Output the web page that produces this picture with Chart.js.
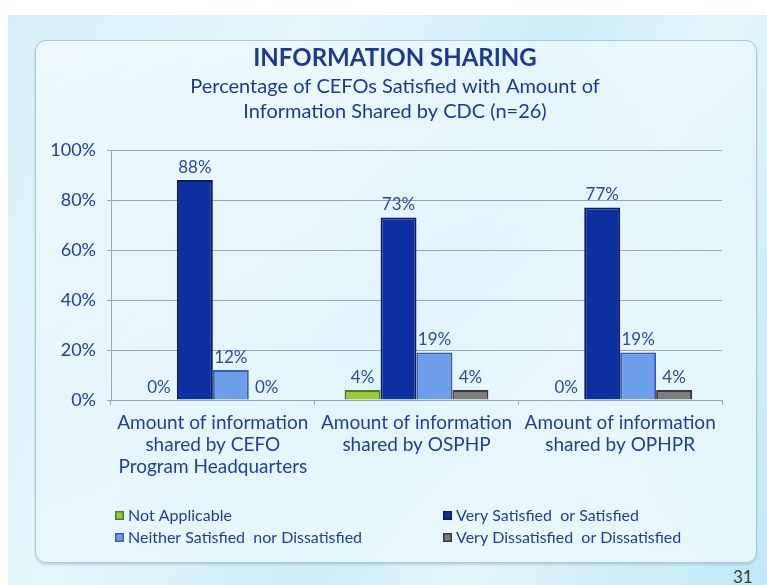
<!DOCTYPE html>
<html>
<head>
<meta charset="utf-8">
<script src="https://cdn.jsdelivr.net/npm/chart.js@4.4.1/dist/chart.umd.min.js"></script>
<style>
  html, body { margin: 0; padding: 0; background: #ffffff; }
  #page { position: relative; width: 767px; height: 585px; overflow: hidden; background: #ffffff; }
  #bg { position: absolute; left: 8px; top: 15px; width: 759px; height: 570px;
        background: linear-gradient(115deg, #d6f0f9 0%, #e4f5fb 30%, #cdeef9 55%, #e2f5fb 70%, #bfe8f7 100%); }
  #panel { position: absolute; left: 35px; top: 40px; width: 720px; height: 521px;
           border-radius: 11px; border: 1.5px solid #a9c6d4;
           background: linear-gradient(160deg, rgba(240,250,253,0.85) 0%, rgba(230,246,252,0.8) 50%, rgba(236,249,253,0.85) 100%);
           box-shadow: 0 2px 2px rgba(120,160,180,0.35); }
  #num { position: absolute; left: 733px; top: 566px; font: 17px Lato, sans-serif; color: #3a3a3a; }
  #wrap { position: absolute; left: 0; top: 0; width: 767px; height: 585px; }
</style>
</head>
<body>
<div id="page">
  <div id="bg"></div>
  <div id="panel"></div>
  <div id="num">31</div>
  <div id="wrap"><canvas id="c" width="767" height="585"></canvas></div>
</div>
<script>
const categories = [
  ["Amount of information", "shared by CEFO", "Program Headquarters"],
  ["Amount of information", "shared by OSPHP"],
  ["Amount of information", "shared by OPHPR"]
];
const seriesNames = [
  "Not Applicable",
  "Very Satisfied  or Satisfied",
  "Neither Satisfied  nor Dissatisfied",
  "Very Dissatisfied  or Dissatisfied"
];
const notApplicable    = [0, 4, 0];
const verySatisfied    = [88, 73, 77];
const neitherSatisfied = [12, 19, 19];
const veryDissatisfied = [0, 4, 4];
const yTickValues = [0, 20, 40, 60, 80, 100];
const titleText = "INFORMATION SHARING";
const subtitleLines = ["Percentage of CEFOs Satisfied with Amount of", "Information Shared by CDC (n=26)"];

const FONT = "Lato, 'Open Sans', sans-serif";
const TEXT_BLUE = "#223f96";
const TITLE_BLUE = "#1d3a92";

const fills   = ["#9acb3a", "#0e2f9f", "#6d9eec", "#7c7c7c"];
const borders = ["#4f7d1c", "#0a1c62", "#3d5ea8", "#3a3a3a"];

const headerText = {
  id: "headerText",
  afterDraw(chart) {
    const ctx = chart.ctx;
    const cx = 395;
    ctx.save();
    ctx.textAlign = "center";
    ctx.textBaseline = "middle";
    ctx.fillStyle = TITLE_BLUE;
    ctx.font = "bold 24px " + FONT;
    ctx.fillText(titleText, cx, 58);
    ctx.font = "20px " + FONT;
    subtitleLines.forEach((line, i) => ctx.fillText(line, cx, 87 + i * 25));
    ctx.restore();
  }
};

const valueLabels = {
  id: "valueLabels",
  afterDatasetsDraw(chart) {
    const ctx = chart.ctx;
    ctx.save();
    ctx.font = "17px " + FONT;
    ctx.fillStyle = "#2c4b9e";
    ctx.textAlign = "center";
    ctx.textBaseline = "bottom";
    chart.data.datasets.forEach((ds, i) => {
      const meta = chart.getDatasetMeta(i);
      meta.data.forEach((bar, j) => {
        ctx.fillText(ds.data[j] + "%", bar.x, bar.y - 4);
      });
    });
    ctx.restore();
  }
};

const columnLegend = {
  id: "columnLegend",
  afterDraw(chart) {
    const ctx = chart.ctx;
    const cols = [115, 443];
    const rows = [516, 538];
    const place = [[0, 0], [1, 0], [0, 1], [1, 1]];
    ctx.save();
    ctx.font = "16px " + FONT;
    ctx.textBaseline = "middle";
    chart.data.datasets.forEach((ds, i) => {
      const x = cols[place[i][0]], y = rows[place[i][1]];
      ctx.fillStyle = ds.borderColor;
      ctx.fillRect(x, y - 5, 9, 9);
      ctx.fillStyle = ds.backgroundColor;
      ctx.fillRect(x + 1.5, y - 3.5, 6, 6);
      ctx.fillStyle = TEXT_BLUE;
      ctx.textAlign = "left";
      ctx.fillText(ds.label, x + 13, y);
    });
    ctx.restore();
  }
};

const seriesData = [notApplicable, verySatisfied, neitherSatisfied, veryDissatisfied];

new Chart(document.getElementById("c"), {
  type: "bar",
  data: {
    labels: categories,
    datasets: seriesNames.map((name, i) => ({
      label: name,
      data: seriesData[i],
      backgroundColor: fills[i],
      borderColor: borders[i],
      borderWidth: 2,
      borderSkipped: "bottom",
      barPercentage: 1.0,
      categoryPercentage: 0.706
    }))
  },
  plugins: [headerText, valueLabels, columnLegend],
  options: {
    responsive: false,
    animation: false,
    devicePixelRatio: 1,
    layout: { padding: { top: 150, left: 41, right: 45, bottom: 105 } },
    plugins: {
      legend: { display: false },
      tooltip: { enabled: false },
      title: { display: false },
      subtitle: { display: false }
    },
    scales: {
      x: {
        afterFit(s) { s.height = 80; },
        grid: { offset: true, drawOnChartArea: false, drawTicks: true, tickLength: 5, color: "#9aa6b8" },
        border: { color: "#9aa6b8", width: 1 },
        ticks: { color: TEXT_BLUE, font: { family: FONT, size: 19, lineHeight: 1.15 }, padding: 7, maxRotation: 0, autoSkip: false }
      },
      y: {
        min: 0, max: 100,
        afterFit(s) { s.width = 70; },
        afterBuildTicks(s) { s.ticks = yTickValues.map(v => ({ value: v })); },
        grid: { color: "#9aa6b8", tickLength: 4, drawTicks: true },
        border: { color: "#9aa6b8", width: 1 },
        ticks: { color: TEXT_BLUE, font: { family: FONT, size: 18 }, padding: 11, callback: v => v + "%" }
      }
    }
  }
});
</script>
</body>
</html>
